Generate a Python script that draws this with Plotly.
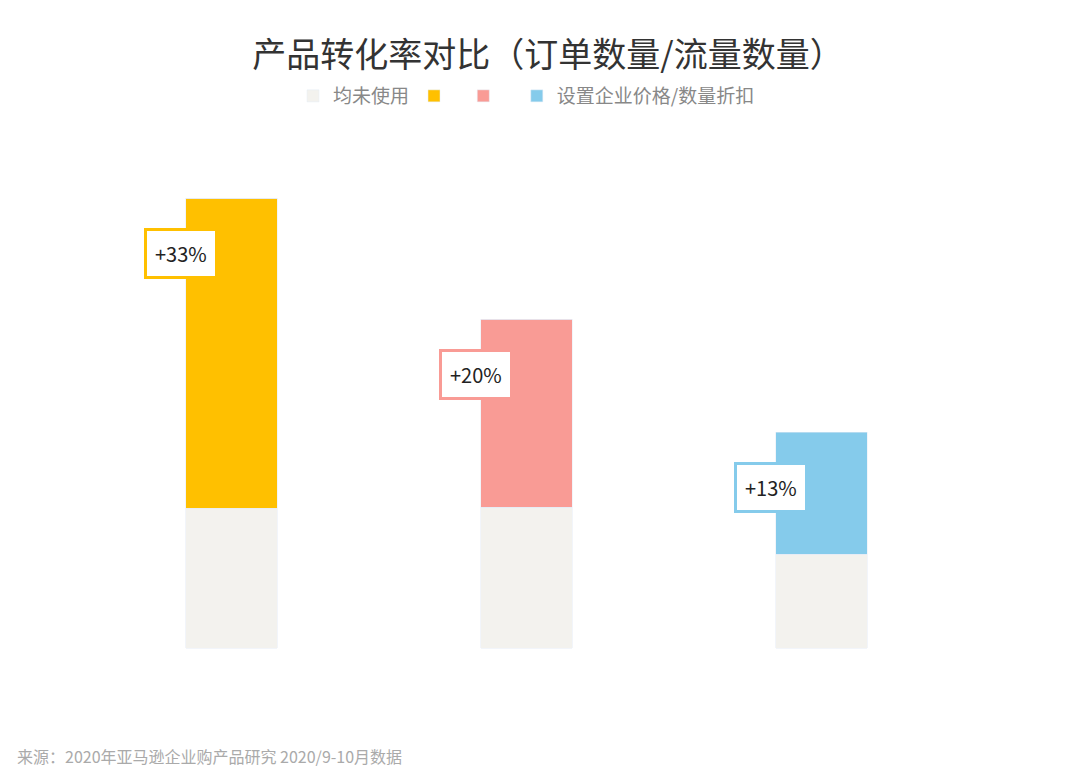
import plotly.graph_objects as go

# values (arbitrary units, ~pixel heights)
categories = [0, 1, 2]
base_values = [140, 141, 94]
top_values = [310, 188, 122]
labels = ["+33%", "+20%", "+13%"]
series_names = [" ", "  ", "设置企业价格/数量折扣"]
colors = ["#FFC000", "#F99B95", "#85CBEB"]
gray = "#F3F2EE"

fig = go.Figure()
fig.add_trace(go.Bar(x=categories, y=base_values, name="均未使用",
                     marker_color=gray, width=0.31))
for i, (nm, col) in enumerate(zip(series_names, colors)):
    yv = [top_values[j] if j == i else 0 for j in categories]
    fig.add_trace(go.Bar(x=categories, y=yv, name=nm, marker_color=col, width=0.31))

for i, lab in enumerate(labels):
    fig.add_annotation(
        x=categories[i] - 0.17, y=base_values[i] + top_values[i] - 56,
        text=lab, showarrow=True, arrowhead=0, arrowwidth=3, arrowcolor=colors[i],
        ax=0, ay=-1, bgcolor="white", bordercolor=colors[i], borderwidth=3,
        borderpad=8, font=dict(size=20, color="#222"))

fig.add_annotation(x=-0.078, y=-0.147, xref="paper", yref="paper", xanchor="left",
                   yanchor="middle",
                   text="来源：2020年亚马逊企业购产品研究 2020/9-10月数据",
                   showarrow=False, font=dict(size=16, color="#aaa"))

fig.update_layout(
    width=1080, height=772, barmode="stack",
    title=dict(text="产品转化率对比（订单数量/流量数量）", x=0.5, y=0.955,
               font=dict(size=34, color="#333")),
    font=dict(family="Noto Sans CJK SC"),
    plot_bgcolor="white", paper_bgcolor="white",
    margin=dict(l=76, r=119, t=92, b=108),
    xaxis=dict(range=[-0.5, 2.5], visible=False),
    yaxis=dict(range=[-24, 548], visible=False),
    legend=dict(orientation="h", x=0.5, xanchor="center", y=1.007, yanchor="middle",
                traceorder="normal", font=dict(size=19, color="#888")),
    showlegend=True,
)
fig.write_html("out.html")
